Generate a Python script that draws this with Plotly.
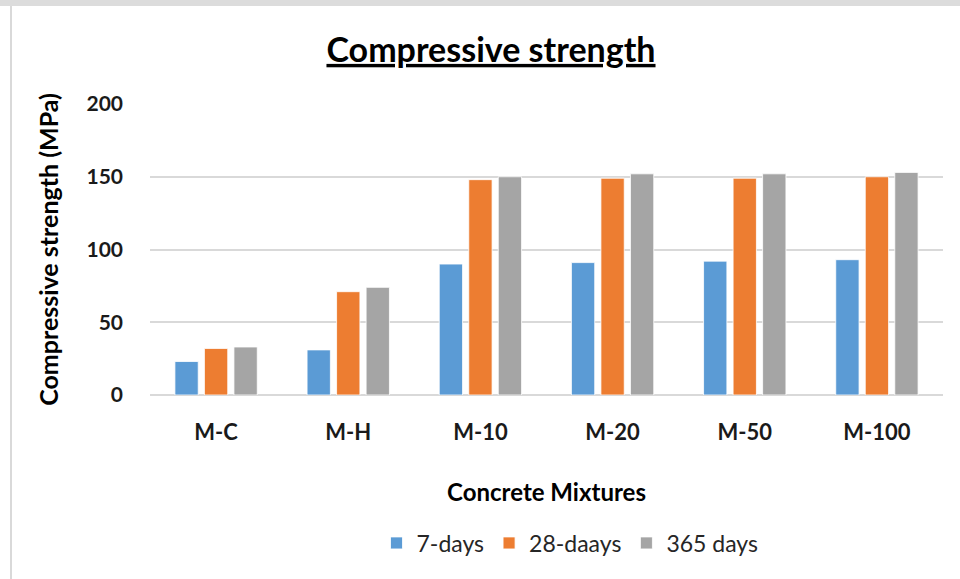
import plotly.graph_objects as go

mixtures = ["M-C", "M-H", "M-10", "M-20", "M-50", "M-100"]
days_7 = [23, 31, 90, 91, 92, 93]
days_28 = [32, 71, 148, 149, 149, 150]
days_365 = [33, 74, 150, 152, 152, 153]

series = [
    ("7-days", days_7, "#5b9bd5"),
    ("28-daays", days_28, "#ed7d31"),
    ("365 days", days_365, "#a5a5a5"),
]

FONT = "Lato"
W, H = 960, 579

fig = go.Figure()
for name, vals, color in series:
    fig.add_trace(go.Bar(
        name=name, x=mixtures, y=vals,
        marker=dict(color=color, line=dict(color="white", width=0.8)),
    ))

fig.update_layout(
    width=W, height=H,
    margin=dict(l=150, r=17, t=104, b=184),
    paper_bgcolor="white", plot_bgcolor="white",
    barmode="group", bargap=0.33, bargroupgap=0.21,
    font=dict(family=FONT, color="#000000"),
    title=dict(
        text="<u><b>Compressive strength</b></u>",
        x=491 / W, xref="container", xanchor="center",
        y=1 - 50 / H, yref="container", yanchor="middle",
        font=dict(family=FONT, size=34, color="#000000"),
    ),
    legend=dict(
        orientation="h", x=570 / W, xanchor="center", xref="container",
        y=1 - 543 / H, yanchor="middle", yref="container",
        font=dict(family=FONT, size=23, color="#262626"),
        itemwidth=30, traceorder="normal",
    ),
    showlegend=True,
)

fig.update_yaxes(
    range=[0, 200], tickvals=[0, 50, 100, 150, 200],
    showgrid=True, gridcolor="#d9d9d9", gridwidth=1.5,
    zeroline=True, zerolinecolor="#d9d9d9", zerolinewidth=1.5,
    showline=False, ticks="", ticklen=0,
    tickfont=dict(family=FONT, size=21, color="#1a1a1a", weight="bold"),
    ticklabelstandoff=26,
    title=dict(text="<b>Compressive strength (MPa)</b>",
               font=dict(family=FONT, size=25, color="#000000"), standoff=20),
)
fig.update_xaxes(
    showgrid=False, showline=False, ticks="",
    tickfont=dict(family=FONT, size=22, color="#1a1a1a", weight="bold"),
    ticklabelstandoff=22,
    title=dict(text="<b>Concrete Mixtures</b>",
               font=dict(family=FONT, size=24, color="#000000"), standoff=40),
)

# thin frame around the chart area
fig.add_shape(type="rect", xref="paper", yref="paper",
              x0=-150/793, x1=1.05, y0=1 + 98/291, y1=1.2 + 104/291,
              fillcolor="#dcdcdc", line=dict(width=0), layer="below")
fig.add_shape(type="line", xref="paper", yref="paper",
              x0=-139/793, x1=-139/793, y0=-184/291 - 0.01, y1=1 + 98/291,
              line=dict(color="#d9d9d9", width=2))

fig.write_html("out.html")
